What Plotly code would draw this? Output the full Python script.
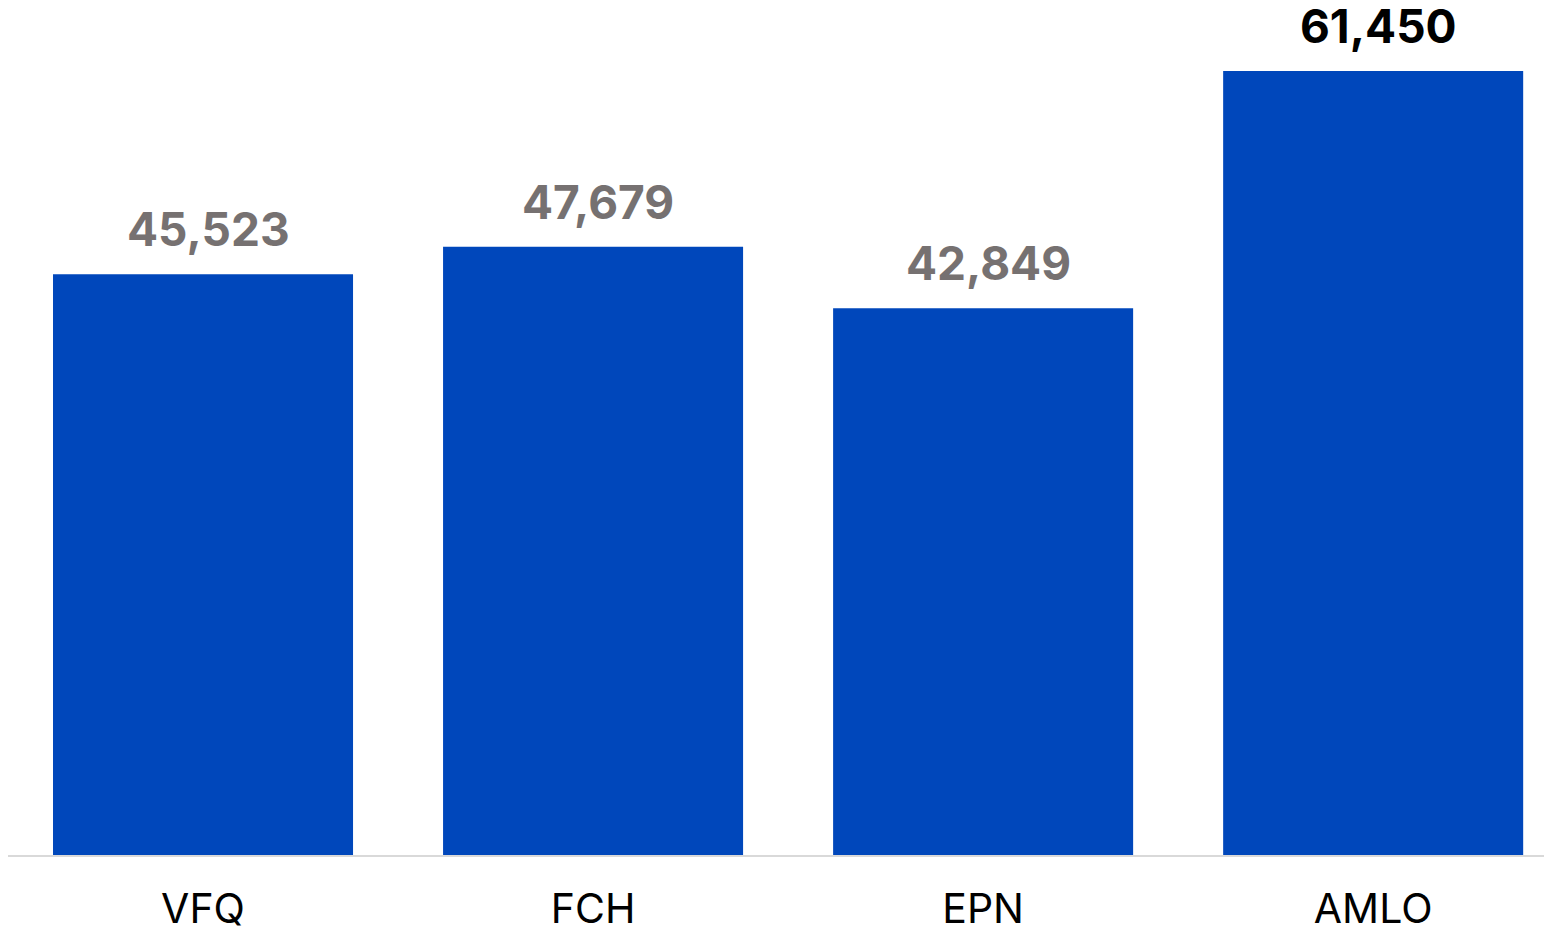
import plotly.graph_objects as go

# presidential terms and their values
presidents = ['VFQ', 'FCH', 'EPN', 'AMLO']
values = [45523, 47679, 42849, 61450]
label_colors = ['#767171', '#767171', '#767171', '#000000']

fig = go.Figure()
fig.add_trace(go.Bar(x=presidents, y=values, marker=dict(color='#0047BB', line=dict(width=0)),
                     hoverinfo='skip'))

# value labels above each bar
for p, v, c in zip(presidents, values, label_colors):
    fig.add_annotation(x=p, y=v, text='<b>{:,}</b>'.format(v), showarrow=False,
                       yanchor='bottom', yshift=15, xshift=5,
                       font=dict(family='Inter, Liberation Sans, sans-serif', size=46, color=c))

fig.update_layout(width=1552, height=928,
                  margin=dict(l=0, r=0, t=12, b=81),
                  plot_bgcolor='white', paper_bgcolor='white',
                  bargap=0.2308, showlegend=False)
fig.update_xaxes(range=[-0.5, 3.479], showline=True, linecolor='#D9D9D9', linewidth=2,
                 ticks='', ticklabelstandoff=17, automargin=False,
                 tickfont=dict(family='Inter, Liberation Sans, sans-serif', size=41, color='#000000'))
fig.update_yaxes(range=[0, 65450], visible=False, showgrid=False, zeroline=False, automargin=False)

fig.write_html("out.html")
